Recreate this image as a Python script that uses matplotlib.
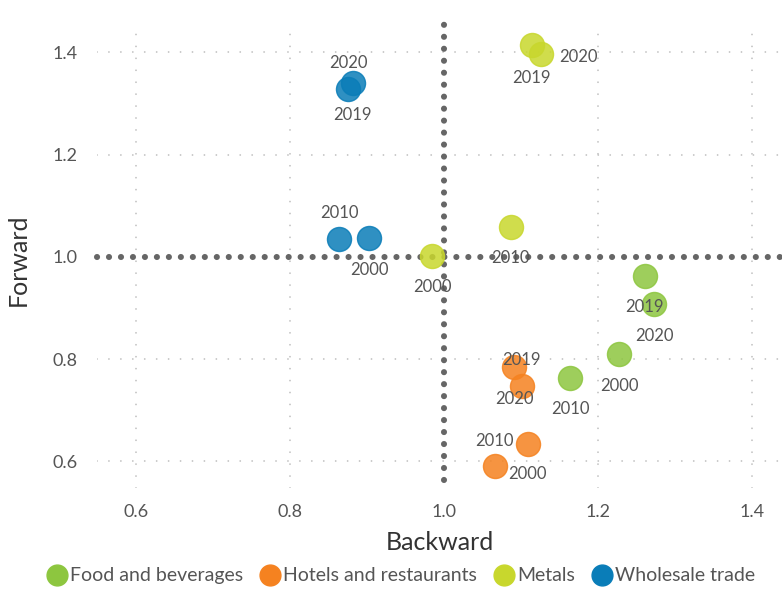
import matplotlib
matplotlib.use("Agg")
import matplotlib.pyplot as plt
from matplotlib.lines import Line2D

plt.rcParams['font.family'] = ['Lato', 'DejaVu Sans']

# ---- data ----
sectors = ["Food and beverages", "Hotels and restaurants", "Metals", "Wholesale trade"]
years = ["2000", "2010", "2019", "2020"]
backward = {
    "Food and beverages":     [1.228, 1.164, 1.261, 1.273],
    "Hotels and restaurants": [1.067, 1.109, 1.091, 1.101],
    "Metals":                 [0.985, 1.087, 1.114, 1.126],
    "Wholesale trade":        [0.903, 0.864, 0.875, 0.882],
}
forward = {
    "Food and beverages":     [0.811, 0.764, 0.962, 0.908],
    "Hotels and restaurants": [0.591, 0.635, 0.784, 0.748],
    "Metals":                 [1.001, 1.059, 1.415, 1.397],
    "Wholesale trade":        [1.037, 1.035, 1.328, 1.339],
}
x_ticks = [0.6, 0.8, 1.0, 1.2, 1.4]
y_ticks = [0.6, 0.8, 1.0, 1.2, 1.4]
x_ticklabels = ["0.6", "0.8", "1.0", "1.2", "1.4"]
y_ticklabels = ["0.6", "0.8", "1.0", "1.2", "1.4"]

# ---- styles / label placement (pixel offsets) ----
colors = {
    "Food and beverages": "#8DC63F",
    "Hotels and restaurants": "#F58220",
    "Metals": "#C8D72D",
    "Wholesale trade": "#0A7DB8",
}
label_offsets = {
    "Food and beverages":     [(0, -32), (0, -31), (0, -31), (0, -32)],
    "Hotels and restaurants": [(32, -8), (-33, 3), (8, 7), (-7, -13)],
    "Metals":                 [(0, -31), (0, -31), (0, -33), (38, -3)],
    "Wholesale trade":        [(0, -32), (0, 26), (5, -26), (-5, 20)],
}

fig = plt.figure(figsize=(7.82, 5.99), dpi=100)
ax = fig.add_axes([0.1237, 0.186, 0.877, 0.761])
ax.set_xlim(0.549, 1.44)
ax.set_ylim(0.549, 1.44)

grid_kw = dict(color="#c0c0c0", lw=1.3, linestyle=(0, (0.01, 6.6)),
               dash_capstyle="round", zorder=0)
for xv in x_ticks:
    if xv != 1.0:
        ax.axvline(xv, **grid_kw)
for yv in y_ticks:
    if yv != 1.0:
        ax.axhline(yv, **grid_kw)

ref_kw = dict(color="#666666", lw=4.4, linestyle=(0, (0.01, 1.95)),
              dash_capstyle="round", clip_on=False, zorder=1)
ax.plot([0.549, 1.46], [1.0, 1.0], **ref_kw)
ax.plot([1.0, 1.0], [0.563, 1.455], **ref_kw)

for s in sectors:
    ax.scatter(backward[s], forward[s], s=300, color=colors[s], alpha=0.85,
               edgecolors=colors[s], linewidths=1, zorder=3)
    for i, yr in enumerate(years):
        dx, dy = label_offsets[s][i]
        ax.annotate(yr, (backward[s][i], forward[s][i]),
                    xytext=(dx * 0.72, dy * 0.72), textcoords="offset points",
                    ha="center", va="center", fontsize=12, color="#555555",
                    zorder=4)

for sp in ax.spines.values():
    sp.set_visible(False)
ax.set_xticks(x_ticks)
ax.set_xticklabels(x_ticklabels)
ax.set_yticks(y_ticks)
ax.set_yticklabels(y_ticklabels)
ax.tick_params(length=0, labelsize=13, labelcolor="#555555")
ax.tick_params(axis="x", pad=12)
ax.tick_params(axis="y", pad=14)
ax.set_xlabel("Backward", fontsize=18, color="#333333", labelpad=8)
ax.set_ylabel("Forward", fontsize=18, color="#333333", labelpad=16)

handles = [Line2D([], [], marker="o", linestyle="", markersize=15,
                  markerfacecolor=colors[s], markeredgecolor=colors[s])
           for s in sectors]
fig.legend(handles, sectors, loc="lower center", bbox_to_anchor=(0.513, -0.005),
           ncol=4, frameon=False, fontsize=14, handletextpad=0.15,
           columnspacing=0.9, labelcolor="#555555", handlelength=1.0)

fig.savefig("out.png", dpi=100)
